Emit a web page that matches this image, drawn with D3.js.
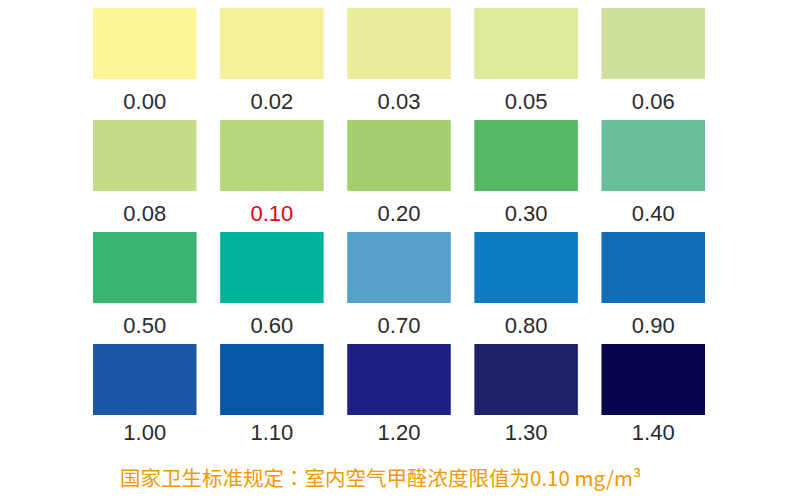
<!DOCTYPE html>
<html><head><meta charset="utf-8">
<script src="https://cdn.jsdelivr.net/npm/d3@7"></script>
<style>body{margin:0;background:#fff}svg{display:block}</style>
</head><body>
<svg id="c" width="790" height="500"></svg>
<script>
const labels = ["0.00","0.02","0.03","0.05","0.06","0.08","0.10","0.20","0.30","0.40","0.50","0.60","0.70","0.80","0.90","1.00","1.10","1.20","1.30","1.40"];
const colors = ["#fef595","#f5f19a","#e9ec9a","#dfe99a","#cde19a","#c4dc88","#b5d77a","#a3cf6e","#55b866","#67c09a","#38b570","#00b29a","#56a0cb","#0c7bc4","#116db5","#1a57a4","#0558a8","#1e2084","#1f2268","#07054d"];
const highlight = "0.10";
const note = "国家卫生标准规定：室内空气甲醛浓度限值为0.10 mg/m³";

const svg = d3.select("#c");
const cols = d3.range(5), rows = d3.range(4);
const x = d3.scaleBand().domain(cols).range([93, 705]).paddingInner(0.1855);
const y = d3.scaleBand().domain(rows).range([8, 8 + 112*3 + 71]).paddingInner(41/112);

const g = svg.selectAll("g.cell").data(labels).join("g").attr("class","cell")
  .attr("transform",(d,i)=>`translate(${x(i%5)},${y(Math.floor(i/5))})`);
g.append("rect").attr("width", x.bandwidth()).attr("height", y.bandwidth())
  .attr("fill",(d,i)=>colors[i]);
g.append("text").attr("x", x.bandwidth()/2)
  .attr("y",(d,i)=> y.bandwidth() + (Math.floor(i/5) === rows.length-1 ? 25 : 30))
  .attr("text-anchor","middle").attr("font-family","'Liberation Sans', Arial, sans-serif")
  .attr("font-size",22).attr("fill",d=>d===highlight?"#e60012":"#2b2b2b").text(d=>d);

svg.append("text").attr("x",120).attr("y",486).attr("text-anchor","start")
  .attr("font-family","'Noto Sans CJK TC', 'Noto Sans CJK SC', sans-serif").attr("font-size",20.5)
  .attr("fill","#f39800").text(note);
</script>
</body></html>
